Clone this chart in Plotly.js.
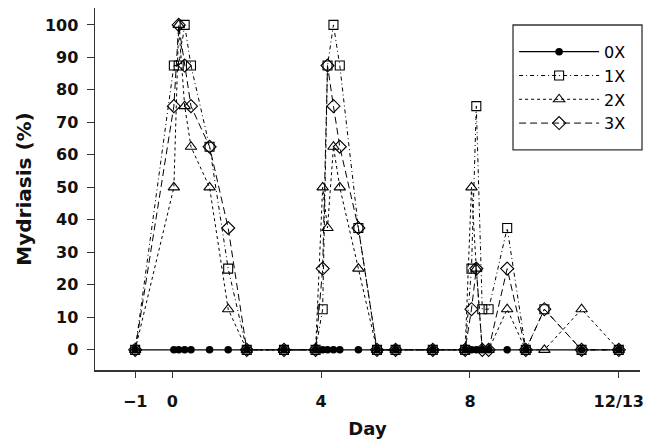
<!DOCTYPE html>
<html>
<head>
<meta charset="utf-8">
<script src="https://cdn.plot.ly/plotly-3.0.1.min.js"></script>
<style>html,body{margin:0;padding:0;background:#fff;}#chart{width:659px;height:445px;}</style>
</head>
<body>
<div id="chart"></div>
<script>
// Sampling days
const days0X = [-1, 0.04, 0.17, 0.33, 0.5, 1, 1.5, 2, 3, 3.85, 4.04, 4.17, 4.33, 4.5, 5, 5.5, 6, 7, 7.87, 8.04, 8.17, 8.33, 8.5, 9, 9.5, 11, 12];
const daysDosed = [-1, 0.04, 0.17, 0.33, 0.5, 1, 1.5, 2, 3, 3.85, 4.04, 4.17, 4.33, 4.5, 5, 5.5, 6, 7, 7.87, 8.04, 8.17, 8.33, 8.5, 9, 9.5, 10, 11, 12];

// Mydriasis (%)
const mydriasis0X = [0, 0, 0, 0, 0, 0, 0, 0, 0, 0, 0, 0, 0, 0, 0, 0, 0, 0, 0, 0, 0, 0, 0, 0, 0, 0, 0];
const mydriasis1X = [0, 87.5, 87.5, 100, 87.5, 62.5, 25, 0, 0, 0, 12.5, 87.5, 100, 87.5, 37.5, 0, 0, 0, 0, 25, 75, 12.5, 12.5, 37.5, 0, 12.5, 0, 0];
const mydriasis2X = [0, 50, 100, 75, 62.5, 50, 12.5, 0, 0, 0, 50, 37.5, 62.5, 50, 25, 0, 0, 0, 0, 50, 25, 0, 0, 12.5, 0, 0, 12.5, 0];
const mydriasis3X = [0, 75, 100, 87.5, 75, 62.5, 37.5, 0, 0, 0, 25, 87.5, 75, 62.5, 37.5, 0, 0, 0, 0, 12.5, 25, 0, 0, 25, 0, 12.5, 0, 0];

const seriesNames = ['0X', '1X', '2X', '3X'];
const xTickVals = [-1, 0, 4, 8, 12];
const xTickText = ['\u22121', '0', '4', '8', '12/13'];
const yTickVals = [0, 10, 20, 30, 40, 50, 60, 70, 80, 90, 100];

const BOLD = 'DejaVu Sans, sans-serif';
const REG = 'DejaVu Sans, sans-serif';
const base = {type: 'scatter', mode: 'lines+markers', cliponaxis: false};

const traces = [
  Object.assign({}, base, {
    x: days0X, y: mydriasis0X, name: seriesNames[0],
    line: {color: '#000', width: 1.3, dash: 'solid'},
    marker: {symbol: 'circle', size: 7.5, color: '#000'}
  }),
  Object.assign({}, base, {
    x: daysDosed, y: mydriasis1X, name: seriesNames[1],
    line: {color: '#000', width: 1, dash: '4px,3px,1px,3px'},
    marker: {symbol: 'square-open', size: 9, color: '#000', line: {width: 1.1}}
  }),
  Object.assign({}, base, {
    x: daysDosed, y: mydriasis2X, name: seriesNames[2],
    line: {color: '#000', width: 1, dash: '3px,3px'},
    marker: {symbol: 'triangle-up-open', size: 10, color: '#000', line: {width: 1.1}}
  }),
  Object.assign({}, base, {
    x: daysDosed, y: mydriasis3X, name: seriesNames[3],
    line: {color: '#000', width: 1, dash: '7px,4px'},
    marker: {symbol: 'diamond-open', size: 10, color: '#000', line: {width: 1.1}}
  })
];

const layout = {
  width: 659, height: 445,
  margin: {l: 95, r: 19, t: 8, b: 75},
  paper_bgcolor: '#fff', plot_bgcolor: '#fff',
  font: {family: REG, color: '#000'},
  showlegend: true,
  legend: {
    x: 0.769, xanchor: 'left', y: 0.926, yanchor: 'top',
    borderwidth: 0, bgcolor: 'rgba(0,0,0,0)',
    font: {family: REG, size: 16, color: '#000'},
    itemwidth: 80, tracegroupgap: 0
  },
  shapes: [{
    type: 'rect', xref: 'paper', yref: 'paper',
    x0: 0.767, x1: 1.0037, y0: 0.608, y1: 0.953,
    line: {color: '#333', width: 1.3}, fillcolor: 'rgba(0,0,0,0)', layer: 'above'
  }],
  xaxis: {
    range: [-2.08, 12.57],
    tickvals: xTickVals, ticktext: xTickText,
    ticks: 'outside', ticklen: 6, tickwidth: 1, tickcolor: '#333',
    showline: true, linecolor: '#333', linewidth: 1.5,
    showgrid: false, zeroline: false,
    ticklabelstandoff: 10,
    tickfont: {family: BOLD, size: 16, color: '#111', weight: 'bold'},
    title: {text: '<b>Day</b>', font: {family: BOLD, size: 18, color: '#111'}, standoff: 12}
  },
  yaxis: {
    range: [-6.2, 105.2],
    tickvals: yTickVals,
    ticks: 'outside', ticklen: 7, tickwidth: 1, tickcolor: '#333',
    showline: true, linecolor: '#333', linewidth: 1.5,
    showgrid: false, zeroline: false,
    ticklabelstandoff: 5,
    tickfont: {family: BOLD, size: 16, color: '#111', weight: 'bold'},
    title: {text: '<b>Mydriasis (%)</b>', font: {family: BOLD, size: 20, color: '#111'}, standoff: 8}
  }
};

Plotly.newPlot('chart', traces, layout, {displayModeBar: false, staticPlot: true});
</script>
</body>
</html>
